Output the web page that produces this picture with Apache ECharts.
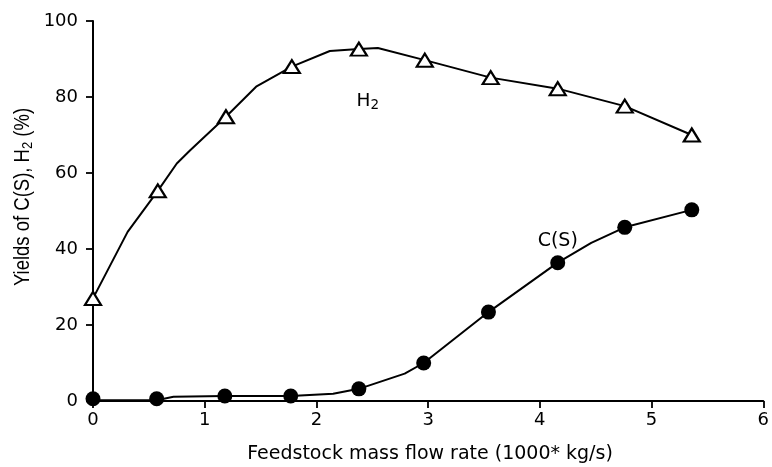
<!DOCTYPE html>
<html>
<head>
<meta charset="utf-8">
<script src="https://cdn.jsdelivr.net/npm/echarts@6/dist/echarts.min.js"></script>
<style>
html,body{margin:0;padding:0;background:#fff;}
#chart{width:772px;height:467px;}
</style>
</head>
<body>
<div id="chart"></div>
<script>
// Tick labels
const xTickLabels = ['0', '1', '2', '3', '4', '5', '6'];
const yTickLabels = ['0', '20', '40', '60', '80', '100'];

// H2 yield: marker points
const h2MarkerX = [0, 0.58, 1.19, 1.78, 2.38, 2.97, 3.56, 4.16, 4.76, 5.36];
const h2MarkerY = [27, 55.3, 74.8, 88, 92.6, 89.7, 85.1, 82.2, 77.6, 70];
// H2 yield: curve vertices
const h2CurveX = [0, 0.31, 0.58, 0.75, 0.87, 1.19, 1.46, 1.78, 2.12, 2.38, 2.55, 2.97, 3.56, 4.16, 4.76, 5.36];
const h2CurveY = [27, 44.5, 55.3, 62.5, 66, 74.8, 82.7, 88, 92.1, 92.6, 92.9, 89.7, 85.1, 82.2, 77.6, 70];

// C(S) yield: marker points
const csMarkerX = [0, 0.57, 1.18, 1.77, 2.38, 2.96, 3.54, 4.16, 4.76, 5.36];
const csMarkerY = [0.6, 0.6, 1.3, 1.3, 3.2, 10, 23.4, 36.4, 45.7, 50.3];
// C(S) yield: curve vertices
const csCurveX = [0, 0.57, 0.72, 1.18, 1.77, 2.15, 2.38, 2.79, 2.96, 3.54, 4.16, 4.46, 4.76, 5.36];
const csCurveY = [0.2, 0.2, 1.1, 1.3, 1.3, 1.9, 3.2, 7.2, 10, 23.4, 36.4, 41.6, 45.7, 50.3];

const zip = (xs, ys) => xs.map((x, i) => [x, ys[i]]);

const FONT = 'DejaVu Sans';
const TXT = '#000';

const chart = echarts.init(document.getElementById('chart'), null, {renderer: 'canvas'});
chart.setOption({
  backgroundColor: '#fff',
  animation: false,
  grid: {left: 93, right: 7, top: 21, bottom: 66, containLabel: false},
  xAxis: {
    type: 'value', min: 0, max: 6, interval: 1,
    axisLine: {show: true, onZero: false, lineStyle: {color: '#000', width: 2}},
    axisTick: {show: true, inside: false, length: 7, lineStyle: {color: '#000', width: 1.8}},
    axisLabel: {margin: 10, color: TXT, fontSize: 18, fontFamily: FONT,
      formatter: v => xTickLabels[Math.round(v)]},
    splitLine: {show: false}
  },
  yAxis: {
    type: 'value', min: 0, max: 100, interval: 20,
    axisLine: {show: true, onZero: false, lineStyle: {color: '#000', width: 2}},
    axisTick: {show: true, inside: false, length: 7, lineStyle: {color: '#000', width: 1.8}},
    axisLabel: {margin: 15, color: TXT, fontSize: 18, fontFamily: FONT,
      formatter: v => yTickLabels[Math.round(v / 20)]},
    splitLine: {show: false}
  },
  graphic: [
    {
      type: 'text', x: 430, y: 454,
      style: {text: 'Feedstock mass flow rate (1000* kg/s)', fill: TXT,
        font: '19px "DejaVu Sans"', align: 'center', verticalAlign: 'middle'}
    },
    {
      type: 'text', x: 25, y: 197, rotation: Math.PI / 2, scaleY: 1.15,
      style: {
        text: '{a|Yields of C(S), H}{b|2}{a| (%)}',
        align: 'center', verticalAlign: 'middle',
        rich: {
          a: {fontSize: 18.5, fontFamily: 'Liberation Sans', fill: TXT, color: TXT, verticalAlign: 'top', lineHeight: 22},
          b: {fontSize: 13, fontFamily: 'Liberation Sans', fill: TXT, color: TXT, verticalAlign: 'top', lineHeight: 22, padding: [7, 0, 0, 0]}
        }
      }
    }
  ],
  series: [
    {
      name: 'H2 curve', type: 'line', data: zip(h2CurveX, h2CurveY),
      showSymbol: false, symbol: 'none', smooth: false,
      lineStyle: {color: '#000', width: 2}, z: 2, silent: true
    },
    {
      name: 'C(S) curve', type: 'line', data: zip(csCurveX, csCurveY),
      showSymbol: false, symbol: 'none', smooth: false,
      lineStyle: {color: '#000', width: 2}, z: 2, silent: true
    },
    {
      name: 'H2', type: 'scatter', data: zip(h2MarkerX, h2MarkerY),
      symbol: 'triangle', symbolSize: [16, 13],
      itemStyle: {color: '#fff', borderColor: '#000', borderWidth: 2.2, opacity: 1},
      z: 5, silent: true,
      markPoint: {
        symbol: 'circle', symbolSize: 0, silent: true,
        label: {
          show: true, position: 'inside',
          formatter: '{h|H}{s|2}',
          rich: {
            h: {fontSize: 18.5, fontFamily: FONT, color: TXT, verticalAlign: 'top', lineHeight: 22},
            s: {fontSize: 13.5, fontFamily: FONT, color: TXT, verticalAlign: 'top', lineHeight: 22, padding: [7, 0, 0, 0]}
          }
        },
        data: [{coord: [2.46, 78.6]}]
      }
    },
    {
      name: 'C(S)', type: 'scatter', data: zip(csMarkerX, csMarkerY),
      symbol: 'circle', symbolSize: 15,
      itemStyle: {color: '#000', opacity: 1},
      z: 5, silent: true,
      markPoint: {
        symbol: 'circle', symbolSize: 0, silent: true,
        label: {show: true, position: 'inside', formatter: 'C(S)',
          fontSize: 19, fontFamily: FONT, color: TXT},
        data: [{coord: [4.16, 42.2]}]
      }
    }
  ]
});
</script>
</body>
</html>
